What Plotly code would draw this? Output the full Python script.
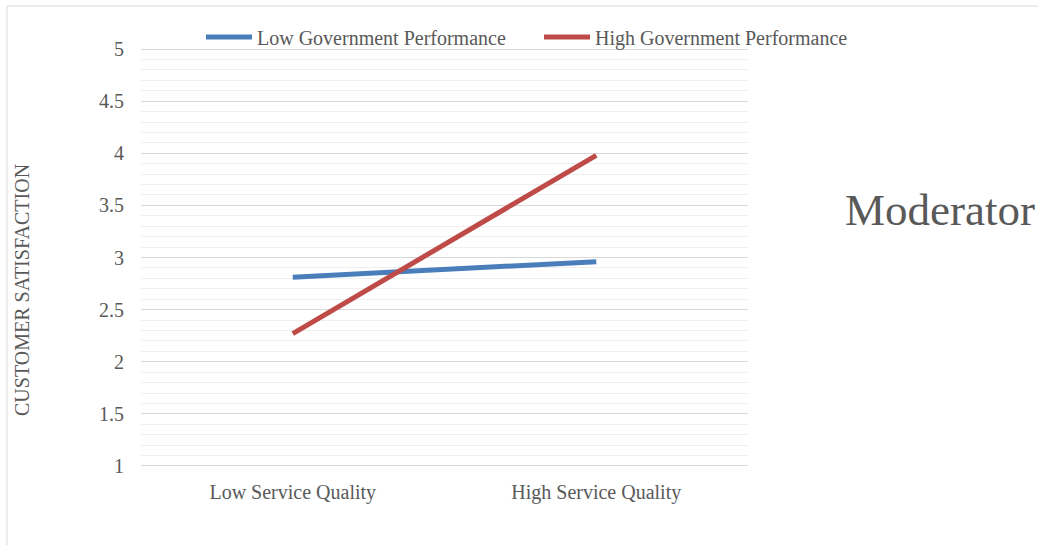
import plotly.graph_objects as go

categories = ["Low Service Quality", "High Service Quality"]
low_gov = [2.81, 2.96]
high_gov = [2.27, 3.98]
series_names = ["Low Government Performance", "High Government Performance"]
colors = ["#4A7EBB", "#BE4B48"]

W, H = 1038, 545
L, R, T, B = 141, 290, 48, 78
pw, ph = W - L - R, H - T - B

def px_x(x):
    return (x - L) / pw

def px_y(y):
    return (H - B - y) / ph

FONT = "Liberation Serif"
GREY = "#595959"

fig = go.Figure()
legend_ids = ["legend", "legend2"]
for name, vals, col, lg in zip(series_names, [low_gov, high_gov], colors, legend_ids):
    fig.add_trace(go.Scatter(x=categories, y=vals, name=name, mode="lines",
                             line=dict(color=col, width=5), legend=lg))

legend_common = dict(orientation="h", xref="paper", yref="paper",
                     xanchor="left", y=px_y(37), yanchor="middle",
                     font=dict(family=FONT, size=20, color=GREY),
                     itemwidth=46, bgcolor="rgba(0,0,0,0)")

fig.update_layout(
    width=W, height=H,
    margin=dict(l=L, r=R, t=T, b=B, autoexpand=False),
    paper_bgcolor="white", plot_bgcolor="white",
    font=dict(family=FONT, color=GREY, size=20),
    showlegend=True,
    legend=dict(x=px_x(201), **legend_common),
    legend2=dict(x=px_x(539), **legend_common),
    xaxis=dict(type="category", range=[-0.5, 1.5], showgrid=False,
               zeroline=False, showline=False, ticks="",
               ticklabelstandoff=11,
               tickfont=dict(family=FONT, size=20, color=GREY)),
    yaxis=dict(range=[0.99, 5.01], dtick=0.5, tick0=1, showgrid=True,
               gridcolor="#d9d9d9", gridwidth=1, zeroline=False,
               showline=False, ticks="", ticklabelstandoff=16,
               tickfont=dict(family=FONT, size=20, color=GREY),
               minor=dict(dtick=0.1, tick0=1, showgrid=True,
                          gridcolor="#efefef", gridwidth=1)),
    shapes=[dict(type="rect", xref="paper", yref="paper",
                 x0=px_x(7), x1=px_x(1045), y0=px_y(555), y1=px_y(6),
                 line=dict(color="#d9d9d9", width=1), fillcolor="rgba(0,0,0,0)",
                 layer="below")],
    annotations=[
        dict(text="CUSTOMER SATISFACTION", xref="paper", yref="paper",
             x=px_x(22), y=px_y(290), textangle=-90, showarrow=False,
             xanchor="center", yanchor="middle",
             font=dict(family=FONT, size=20, color=GREY)),
        dict(text="Moderator", xref="paper", yref="paper",
             x=px_x(940), y=px_y(210), showarrow=False,
             xanchor="center", yanchor="middle",
             font=dict(family=FONT, size=45, color=GREY)),
    ],
)

fig.write_html("out.html")
